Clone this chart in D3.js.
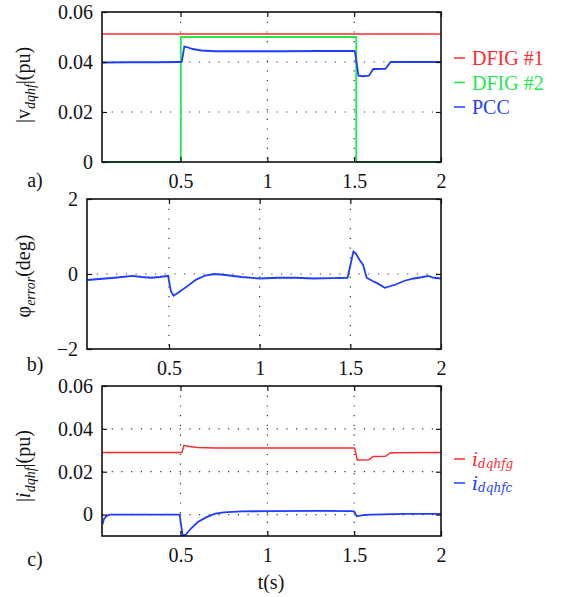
<!DOCTYPE html>
<html><head><meta charset="utf-8">
<script src="https://cdn.jsdelivr.net/npm/d3@7"></script>
<style>body{margin:0;background:#fff}svg{display:block}</style>
</head><body><svg id="c" width="561" height="597"></svg>
<script>
// ---- data ----
const xTicks = [0.5, 1, 1.5, 2];
const ticksA = [0, 0.02, 0.04, 0.06];
const ticksB = [-2, 0, 2];
const ticksC = [0, 0.02, 0.04, 0.06];

const dfig1T = [0.05, 2.0];
const dfig1V = [0.0512, 0.0512];
const dfig2T = [0.05, 0.502, 0.502, 1.512, 1.512, 2.0];
const dfig2V = [0, 0, 0.05, 0.05, 0, 0];
const pccT = [0.05, 0.2, 0.35, 0.5, 0.508, 0.522, 0.54, 0.57, 0.62, 0.7, 0.9, 1.1, 1.3, 1.5, 1.505, 1.525, 1.55, 1.585, 1.61, 1.68, 1.71, 1.8, 2.0];
const pccV = [0.0398, 0.0399, 0.0399, 0.0400, 0.0402, 0.0462, 0.0459, 0.0452, 0.0446, 0.0443, 0.0443, 0.0443, 0.0444, 0.0444, 0.0440, 0.0345, 0.0343, 0.0345, 0.0372, 0.0373, 0.0400, 0.0400, 0.0400];

const phiT = [0.05, 0.1, 0.2, 0.3, 0.35, 0.4, 0.45, 0.495, 0.51, 0.525, 0.55, 0.6, 0.65, 0.7, 0.75, 0.8, 0.9, 1.0, 1.1, 1.2, 1.3, 1.4, 1.485, 1.517, 1.53, 1.55, 1.57, 1.59, 1.62, 1.65, 1.69, 1.75, 1.8, 1.85, 1.9, 1.93, 1.96, 2.0];
const phiV = [-0.16, -0.14, -0.1, -0.05, -0.08, -0.1, -0.08, -0.05, -0.45, -0.58, -0.5, -0.33, -0.15, -0.04, 0.0, -0.02, -0.08, -0.12, -0.1, -0.1, -0.12, -0.11, -0.1, 0.6, 0.55, 0.38, 0.25, -0.1, -0.18, -0.25, -0.37, -0.28, -0.18, -0.12, -0.08, -0.05, -0.1, -0.12];

const igT = [0.05, 0.3, 0.508, 0.52, 0.55, 0.6, 0.7, 1.0, 1.3, 1.5, 1.503, 1.518, 1.585, 1.61, 1.68, 1.71, 2.0];
const igV = [0.029, 0.029, 0.029, 0.0323, 0.0318, 0.0313, 0.0311, 0.0311, 0.0311, 0.0311, 0.0309, 0.0255, 0.0256, 0.0271, 0.0272, 0.0289, 0.0290];
const icT = [0.05, 0.06, 0.075, 0.095, 0.2, 0.4, 0.495, 0.502, 0.512, 0.53, 0.56, 0.6, 0.65, 0.7, 0.75, 0.85, 1.0, 1.3, 1.49, 1.5, 1.515, 1.55, 1.6, 1.8, 2.0];
const icV = [-0.0046, -0.002, -0.0006, 0.0, 0.0, 0.0, 0.0, -0.004, -0.0097, -0.0094, -0.0065, -0.0035, -0.0012, 0.0004, 0.001, 0.0015, 0.0016, 0.0017, 0.0016, 0.0014, -0.0008, -0.0003, 0.0, 0.0003, 0.0003];

// ---- drawing ----
const SERIF = "'Liberation Serif', Tinos, 'Times New Roman', serif";
const svg = d3.select("#c").attr("font-family", SERIF);
const RED = "#ff2a2a", GREEN = "#22e84a", BLUE = "#1f3cff";

function txt(sel) { return sel.attr("font-family", SERIF).style("font-family", SERIF).style("font-size", "20px").style("fill", "#111"); }

function panel(cfg) {
  const x = d3.scaleLinear().domain([0.048, 2]).range([cfg.x0, cfg.x1]);
  const y = d3.scaleLinear().domain(cfg.yd).range([cfg.y1, cfg.y0]);
  const g = svg.append("g");
  xTicks.filter(t => t < 2).forEach(t => {
    g.append("line").attr("x1", x(t)).attr("x2", x(t)).attr("y1", cfg.y0).attr("y2", cfg.y1)
      .attr("stroke", "#333").attr("stroke-width", 1.2).attr("stroke-dasharray", "1.2,8.5");
  });
  cfg.grid.forEach(v => {
    g.append("line").attr("x1", cfg.x0).attr("x2", cfg.x1).attr("y1", y(v)).attr("y2", y(v))
      .attr("stroke", "#333").attr("stroke-width", 1.2).attr("stroke-dasharray", "1.2,8.5");
  });
  const clipId = "clip" + cfg.id;
  svg.append("clipPath").attr("id", clipId).append("rect")
    .attr("x", cfg.x0).attr("y", cfg.y0 - 1).attr("width", cfg.x1 - cfg.x0).attr("height", cfg.y1 - cfg.y0 + 2);
  const line = d3.line().x(d => x(d[0])).y(d => y(d[1]));
  cfg.series.forEach(s => {
    g.append("path").attr("d", line(d3.zip(s.t, s.v))).attr("fill", "none")
      .attr("stroke", s.c).attr("stroke-width", s.w || 1.8).attr("clip-path", "url(#" + clipId + ")");
  });
  const ax = g.append("g").attr("transform", `translate(0,${cfg.y1})`)
    .call(d3.axisBottom(x).tickValues(xTicks).tickSize(-5).tickPadding(12).tickFormat(d3.format("")));
  const axT = g.append("g").attr("transform", `translate(0,${cfg.y0})`)
    .call(d3.axisTop(x).tickValues(xTicks).tickSize(-5).tickFormat(""));
  const ay = g.append("g").attr("transform", `translate(${cfg.x0},0)`)
    .call(d3.axisLeft(y).tickValues(cfg.ticks).tickSize(-5).tickPadding(9).tickFormat(d => d < 0 ? "\u2212" + Math.abs(d) : String(d)));
  const ayR = g.append("g").attr("transform", `translate(${cfg.x1},0)`)
    .call(d3.axisRight(y).tickValues(cfg.ticks).tickSize(-5).tickFormat(""));
  [ax, axT, ay, ayR].forEach(a => {
    a.attr("font-family", SERIF).attr("font-size", 20);
    a.select(".domain").remove();
    a.selectAll("line").attr("stroke", "#111").attr("stroke-width", 1.2);
    txt(a.selectAll("text"));
  });
  ax.selectAll("text").attr("dy", "0.71em");
  g.append("rect").attr("x", cfg.x0).attr("y", cfg.y0).attr("width", cfg.x1 - cfg.x0).attr("height", cfg.y1 - cfg.y0)
    .attr("fill", "none").attr("stroke", "#111").attr("stroke-width", 1.6);
  txt(svg.append("text").attr("x", 35).attr("y", cfg.tagY).attr("text-anchor", "middle")).text(cfg.tag);
}

panel({id: "a", x0: 102, x1: 441, y0: 12, y1: 162, yd: [0, 0.06], ticks: ticksA, grid: [0.02, 0.04], tag: "a)", tagY: 187,
  series: [{t: dfig1T, v: dfig1V, c: RED, w: 1.5}, {t: dfig2T, v: dfig2V, c: GREEN, w: 1.8}, {t: pccT, v: pccV, c: BLUE}]});
panel({id: "b", x0: 87, x1: 441, y0: 199, y1: 349, yd: [-2, 2], ticks: ticksB, grid: [0], tag: "b)", tagY: 371,
  series: [{t: phiT, v: phiV, c: BLUE}]});
panel({id: "c", x0: 102, x1: 441, y0: 386, y1: 536, yd: [-0.01, 0.06], ticks: ticksC, grid: [0, 0.02, 0.04], tag: "c)", tagY: 566,
  series: [{t: igT, v: igV, c: RED, w: 1.5}, {t: icT, v: icV, c: BLUE}]});

function ylabel(cx, cy, parts) {
  const t = txt(svg.append("text").attr("transform", `translate(${cx},${cy}) rotate(-90)`).attr("text-anchor", "middle"));
  parts.forEach(p => {
    const ts = t.append("tspan").text(p.s);
    if (p.it) ts.style("font-style", "italic");
    if (p.sz) ts.style("font-size", p.sz + "px");
    if (p.dy) ts.attr("dy", p.dy);
  });
}
ylabel(30, 85, [{s: "|v"}, {s: "dqhf", it: 1, sz: 14, dy: 5}, {s: "|(pu)", dy: -5}]);
ylabel(30, 276, [{s: "\u03c6"}, {s: "error", it: 1, sz: 14, dy: 5}, {s: "(deg)", dy: -5}]);
ylabel(30, 466, [{s: "|"}, {s: "i", it: 1}, {s: "dqhf", it: 1, sz: 14, dy: 5}, {s: "|(pu)", dy: -5}]);

txt(svg.append("text").attr("x", 271).attr("y", 589).attr("text-anchor", "middle")).text("t(s)");

function legend(items, x0, y0, dy) {
  items.forEach((it, i) => {
    const yy = y0 + i * dy;
    svg.append("line").attr("x1", x0).attr("x2", x0 + 11).attr("y1", yy).attr("y2", yy).attr("stroke", it.c).attr("stroke-width", 1.5);
    const t = txt(svg.append("text").attr("x", x0 + 18).attr("y", yy + 7)).style("fill", it.c);
    if (it.sub) {
      t.append("tspan").text(it.s).style("font-style", "italic").style("font-family", "DejaVu Serif").style("font-size", "19px");
      t.append("tspan").text(it.sub).style("font-style", "italic").style("font-family", "DejaVu Serif").style("font-size", "12px").attr("dy", 2);
    } else t.text(it.s);
  });
}
legend([{s: "DFIG #1", c: RED}, {s: "DFIG #2", c: GREEN}, {s: "PCC", c: BLUE}], 454, 58, 24.5);
legend([{s: "i", sub: "dqhfg", c: RED}, {s: "i", sub: "dqhfc", c: BLUE}], 454, 459, 24);
</script></body></html>
